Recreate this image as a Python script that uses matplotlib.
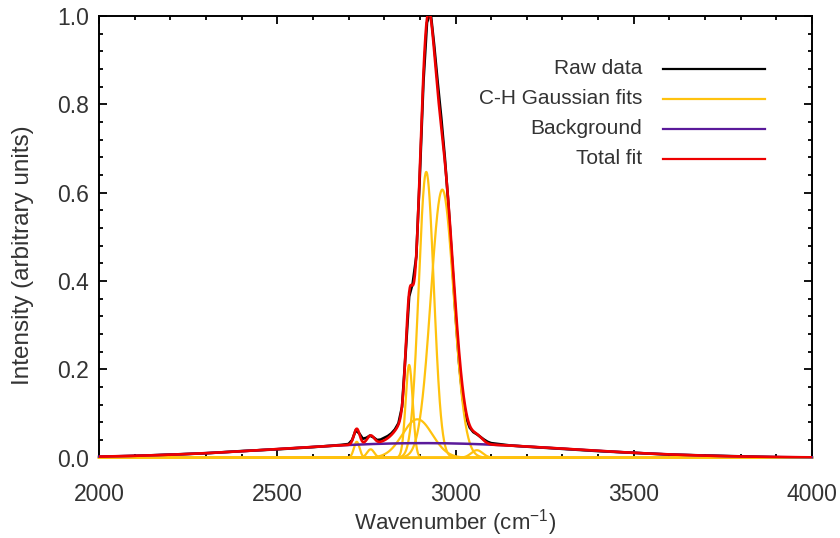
import numpy as np
import matplotlib.pyplot as plt
from matplotlib.lines import Line2D
from matplotlib.ticker import MultipleLocator, FormatStrFormatter

plt.rcParams['font.family'] = ['Liberation Sans', 'DejaVu Sans']
plt.rcParams['mathtext.default'] = 'regular'

TEXT = '#333333'

# ---------------------------------------------------------
# data
# ---------------------------------------------------------
# raw spectrum (wavenumber, intensity)
raw_wn = [2000, 2100, 2200, 2300, 2400, 2500, 2600, 2650, 2680, 2700,
          2710, 2720, 2730, 2740, 2750, 2760, 2770, 2780, 2790, 2800,
          2810, 2820, 2830, 2840, 2850, 2860, 2870, 2880, 2890, 2900,
          2910, 2920, 2930, 2940, 2950, 2960, 2970, 2980, 2990, 3000,
          3010, 3020, 3030, 3040, 3050, 3060, 3070, 3080, 3090, 3100,
          3150, 3200, 3300, 3400, 3500, 3600, 3700, 3800, 3900, 4000]
raw_int = [0.002, 0.004, 0.007, 0.010, 0.015, 0.019, 0.024, 0.027, 0.029, 0.031,
           0.040, 0.062, 0.055, 0.043, 0.045, 0.050, 0.046, 0.040, 0.041, 0.045,
           0.049, 0.055, 0.064, 0.078, 0.115, 0.235, 0.365, 0.395, 0.455, 0.640,
           0.850, 0.985, 1.010, 0.935, 0.850, 0.770, 0.680, 0.575, 0.450, 0.325,
           0.215, 0.135, 0.090, 0.068, 0.058, 0.053, 0.047, 0.041, 0.036, 0.033,
           0.028, 0.025, 0.020, 0.015, 0.011, 0.007, 0.005, 0.003, 0.001, 0.000]

# C-H Gaussian components
g_center = [2723, 2762, 2870, 2893, 2918, 2963, 3060]
g_height = [0.036, 0.019, 0.210, 0.087, 0.647, 0.607, 0.017]
g_sigma = [8, 10, 10, 42, 21, 32, 16]

# broad background
bg_center = 2910
bg_height = 0.033
bg_sigma = 400


def gauss(x, c, h, s):
    return h * np.exp(-0.5 * ((x - c) / s) ** 2)


wn = np.arange(2000, 4001, 1.0)
components = [gauss(wn, c, h, s) for c, h, s in zip(g_center, g_height, g_sigma)]
background = gauss(wn, bg_center, bg_height, bg_sigma)
total = background + np.sum(components, axis=0)

# ---------------------------------------------------------
# plot
# ---------------------------------------------------------
fig = plt.figure(figsize=(8.4, 5.38), dpi=100)
ax = fig.add_axes([99 / 840, 1 - 457.7 / 538, 713 / 840, 441.7 / 538])

col_raw = 'black'
col_gauss = '#ffc20e'
col_bg = '#5a1a9a'
col_tot = '#ee0000'

ax.plot(raw_wn, raw_int, color=col_raw, lw=1.9, zorder=2)
for comp in components:
    ax.plot(wn, comp, color=col_gauss, lw=1.6, zorder=3, clip_on=False)
ax.plot(wn, background, color=col_bg, lw=1.8, zorder=3, clip_on=False)
ax.plot(wn, total, color=col_tot, lw=1.9, zorder=4)

ax.set_xlim(2000, 4000)
ax.set_ylim(0, 1.0)
ax.xaxis.set_major_locator(MultipleLocator(500))
ax.xaxis.set_minor_locator(MultipleLocator(100))
ax.yaxis.set_major_locator(MultipleLocator(0.2))
ax.yaxis.set_minor_locator(MultipleLocator(0.04))
ax.yaxis.set_major_formatter(FormatStrFormatter('%.1f'))

for sp in ax.spines.values():
    sp.set_linewidth(1.4)

ax.tick_params(which='both', direction='in', top=True, right=True,
               width=1.3, labelsize=16.5, labelcolor=TEXT)
ax.tick_params(which='major', length=6)
ax.tick_params(which='minor', length=3)
ax.tick_params(axis='x', which='major', pad=18)
ax.tick_params(axis='y', which='major', pad=7)

# keep the end labels inside the axis
yt = ax.yaxis.get_major_ticks()
yt[0].label1.set_va('bottom')
yt[-1].label1.set_va('top')

fig.text(455 / 840, 1 - 523 / 538, 'Wavenumber (cm$^{-1}$)', ha='center',
         va='center', fontsize=16, color=TEXT)
fig.text(23 / 840, 1 - 255 / 538, 'Intensity (arbitrary units)', ha='center',
         va='center', rotation=90, fontsize=17.5, color=TEXT)

# legend, drawn by hand: text right aligned, line to the right
leg_labels = ['Raw data', 'C-H Gaussian fits', 'Background', 'Total fit']
leg_colors = [col_raw, col_gauss, col_bg, col_tot]
for i, (lab, col) in enumerate(zip(leg_labels, leg_colors)):
    yy = 1 - (69 + 30 * i) / 538
    fig.text(642 / 840, yy, lab, ha='right', va='center', fontsize=15, color=TEXT)
    fig.add_artist(Line2D([663 / 840, 765 / 840], [yy, yy], color=col, lw=1.6))

fig.savefig('out.png', dpi=100)
